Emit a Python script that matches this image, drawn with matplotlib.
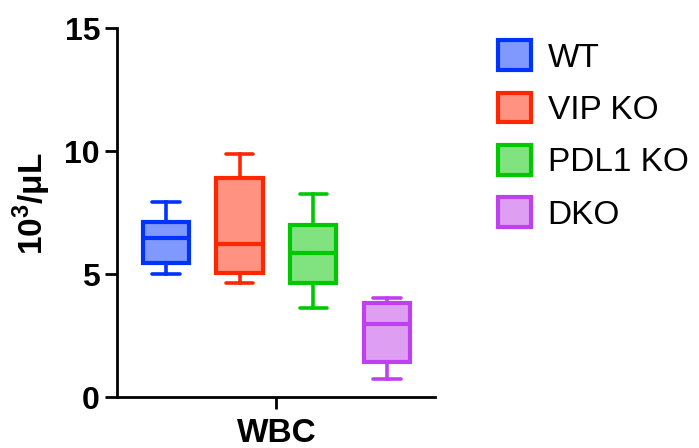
import matplotlib
matplotlib.use("Agg")
import matplotlib.pyplot as plt
from matplotlib.patches import Patch

plt.rcParams['font.family'] = ['Liberation Sans', 'DejaVu Sans']
plt.rcParams['mathtext.fontset'] = 'custom'
plt.rcParams['mathtext.rm'] = 'Liberation Sans'
plt.rcParams['mathtext.bf'] = 'Liberation Sans:bold'

# WBC box plot values (10^3/uL), min / q1 / median / q3 / max
groups = ["WT", "VIP KO", "PDL1 KO", "DKO"]
mins = [5.0, 4.63, 3.62, 0.73]
q1s = [5.45, 5.04, 4.63, 1.42]
medians = [6.46, 6.23, 5.85, 2.98]
q3s = [7.14, 8.93, 7.0, 3.85]
maxs = [7.93, 9.89, 8.25, 4.02]

edge_colors = ["#0033FF", "#FF2600", "#00C800", "#BF40EF"]
fill_colors = ["#8099FF", "#FF9280", "#80E380", "#DE9FF2"]

fig = plt.figure(figsize=(6.99, 4.48), dpi=100)
ax = fig.add_axes([0.167, 0.113, 0.455, 0.824])

stats = []
for i in range(len(groups)):
    stats.append({"med": medians[i], "q1": q1s[i], "q3": q3s[i],
                  "whislo": mins[i], "whishi": maxs[i], "label": groups[i]})

positions = [1, 2, 3, 4]
for i, st in enumerate(stats):
    ec = edge_colors[i]
    ax.bxp([st], positions=[positions[i]], widths=0.63, capwidths=0.37,
           showfliers=False, patch_artist=True,
           boxprops=dict(facecolor=fill_colors[i], edgecolor=ec, linewidth=3),
           medianprops=dict(color=ec, linewidth=3),
           whiskerprops=dict(color=ec, linewidth=2.6),
           capprops=dict(color=ec, linewidth=2.6, solid_capstyle='round'))

ax.set_xlim(0.33, 4.65)
ax.set_ylim(0, 15)
ax.set_yticks([0, 5, 10, 15])
ax.set_xticks([2.5])
ax.set_xticklabels(["WBC"])

for s in ["top", "right"]:
    ax.spines[s].set_visible(False)
for s in ["left", "bottom"]:
    ax.spines[s].set_linewidth(2)

ax.tick_params(axis='both', width=2, length=8.5, pad=3.5, labelsize=23)
ax.tick_params(axis='x', pad=6, labelsize=24)
for lab in ax.get_yticklabels() + ax.get_xticklabels():
    lab.set_fontweight('bold')

ax.set_ylabel(r"10$^{\mathbf{3}}$/μL", fontsize=24, fontweight='bold')
ax.yaxis.set_label_coords(-0.2, 0.524)

handles = [Patch(facecolor=fill_colors[i], edgecolor=edge_colors[i], linewidth=3)
           for i in range(len(groups))]
fig.legend(handles, groups, loc='upper left', bbox_to_anchor=(0.712, 0.910),
           frameon=False, fontsize=24, handlelength=1.0, handleheight=1.0,
           handletextpad=0.5, labelspacing=0.57, borderpad=0, borderaxespad=0)

fig.savefig("out.png", dpi=100)
